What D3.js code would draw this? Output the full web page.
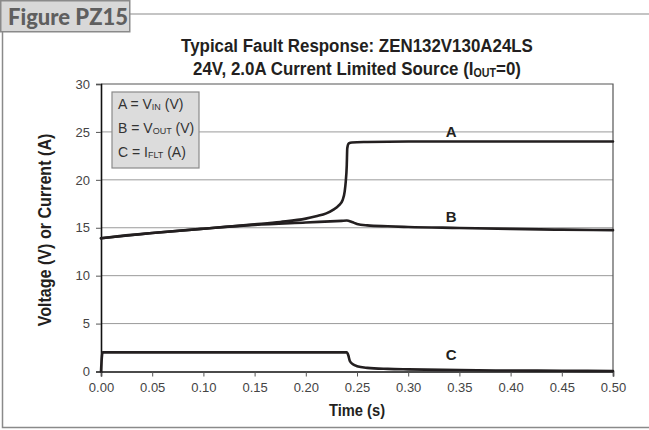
<!DOCTYPE html>
<html><head><meta charset="utf-8">
<script src="https://cdn.jsdelivr.net/npm/d3@7"></script>
<style>
html,body{margin:0;padding:0;background:#fff;}
svg{display:block;}
</style></head>
<body>
<script>
// ---- data ----
const titleLine1 = "Typical Fault Response: ZEN132V130A24LS";
const xTicks = [0, 0.05, 0.10, 0.15, 0.20, 0.25, 0.30, 0.35, 0.40, 0.45, 0.50];
const yTicks = [0, 5, 10, 15, 20, 25, 30];
// Curve A: V_IN (V)
const timeA = [0, 0.02, 0.05, 0.10, 0.15, 0.175, 0.20, 0.21, 0.22, 0.227, 0.232, 0.236, 0.238, 0.239, 0.2400, 0.2405, 0.242, 0.245, 0.26, 0.30, 0.40, 0.50];
const valA  = [13.9, 14.15, 14.45, 14.9, 15.35, 15.6, 15.95, 16.2, 16.5, 16.9, 17.3, 17.9, 18.8, 19.8, 21.5, 23.3, 23.8, 23.9, 23.95, 24.0, 24.0, 24.0];
// Curve B: V_OUT (V)
const timeB = [0, 0.05, 0.10, 0.15, 0.20, 0.235, 0.24, 0.245, 0.25, 0.26, 0.28, 0.30, 0.35, 0.40, 0.45, 0.50];
const valB  = [13.9, 14.45, 14.9, 15.3, 15.55, 15.72, 15.75, 15.6, 15.4, 15.25, 15.15, 15.08, 14.98, 14.88, 14.8, 14.75];
// Curve C: I_FLT (A)
const timeC = [0, 0.0015, 0.10, 0.24, 0.2415, 0.243, 0.246, 0.25, 0.26, 0.28, 0.30, 0.35, 0.40, 0.45, 0.50];
const valC  = [0, 2.0, 2.0, 2.0, 1.7, 1.1, 0.75, 0.55, 0.38, 0.27, 0.22, 0.15, 0.10, 0.08, 0.06];
const curveNames = ["A", "B", "C"];
const curveLabelPos = [[0.342, 24.5], [0.342, 15.6], [0.342, 1.2]];

// ---- layout ----
const W = 649, H = 430;
const svg = d3.select("body").append("svg").attr("width", W).attr("height", H);
const x = d3.scaleLinear().domain([0, 0.5]).range([101, 613]);
const y = d3.scaleLinear().domain([0, 30]).range([371.5, 84]);

// frame
svg.append("line").attr("x1", 130).attr("x2", W).attr("y1", 14).attr("y2", 14).attr("stroke", "#8a8a8a").attr("stroke-width", 1.2);
svg.append("path").attr("d", `M2.5,32 V427.5 H${W}`).attr("fill", "none").attr("stroke", "#8a8a8a").attr("stroke-width", 1.5);
svg.append("rect").attr("x", 0.75).attr("y", 0.75).attr("width", 129).attr("height", 31).attr("fill", "#d8d8d8").attr("stroke", "#8a8a8a").attr("stroke-width", 1.5);
svg.append("text").attr("x", 8).attr("y", 25).attr("font-family", "Lato, 'Open Sans', sans-serif").attr("font-weight", 900).attr("font-size", 22).attr("fill", "#5f5f5f").text("Figure PZ15");

// title (condensed look via horizontal scale)
const tf = "'Liberation Sans', Arial, sans-serif";
const tg = svg.append("g").attr("transform", "translate(357,0) scale(0.89,1)");
tg.append("text").attr("x", 0).attr("y", 52).attr("text-anchor", "middle").attr("font-family", tf).attr("font-weight", "bold").attr("font-size", 19).attr("fill", "#231f20").text(titleLine1);
const t2 = tg.append("text").attr("x", 0).attr("y", 75).attr("text-anchor", "middle").attr("font-family", tf).attr("font-weight", "bold").attr("font-size", 19).attr("fill", "#231f20");
t2.append("tspan").text("24V, 2.0A Current Limited Source (I");
t2.append("tspan").attr("font-size", 12).attr("dy", 2).text("OUT");
t2.append("tspan").attr("dy", -2).text("=0)");

// gridlines
svg.append("g").selectAll("line").data(yTicks.filter(d => d > 0 && d < 30)).join("line")
  .attr("x1", x(0)).attr("x2", x(0.5)).attr("y1", d => y(d)).attr("y2", d => y(d))
  .attr("stroke", "#9a9a9a").attr("stroke-width", 1);
// top and right border
svg.append("path").attr("d", `M${x(0)},${y(30)} H${x(0.5)} V${y(0)}`).attr("fill", "none").attr("stroke", "#555").attr("stroke-width", 1.2);

// axes
const af = "'Liberation Sans', Arial, sans-serif";
const yAxis = svg.append("g").attr("transform", `translate(${x(0)},0)`)
  .call(d3.axisLeft(y).tickValues(yTicks).tickSize(5).tickPadding(6).tickFormat(d3.format("d")));
const xAxis = svg.append("g").attr("transform", `translate(0,${y(0)})`)
  .call(d3.axisBottom(x).tickValues(xTicks).tickSize(5).tickPadding(6).tickFormat(d3.format(".2f")));
[yAxis, xAxis].forEach(g => {
  g.select(".domain").attr("stroke", "#111").attr("stroke-width", 1.6);
  g.selectAll(".tick line").attr("stroke", "#555");
  g.selectAll(".tick text").attr("font-family", af).attr("font-size", 13).attr("fill", "#444");
});

// axis titles
svg.append("text").attr("transform", "translate(357,416) scale(0.92,1)").attr("text-anchor", "middle").attr("font-family", af).attr("font-weight", "bold").attr("font-size", 16).attr("fill", "#231f20").text("Time (s)");
svg.append("text").attr("transform", "translate(51,230) rotate(-90) scale(0.92,1)").attr("text-anchor", "middle").attr("font-family", af).attr("font-weight", "bold").attr("font-size", 17.5).attr("fill", "#231f20").text("Voltage (V) or Current (A)");

// curves
const line = d3.line().x(d => x(d[0])).y(d => y(d[1])).curve(d3.curveMonotoneX);
const series = [d3.zip(timeB, valB), d3.zip(timeA, valA), d3.zip(timeC, valC)];
svg.append("g").selectAll("path").data(series).join("path")
  .attr("d", line).attr("fill", "none").attr("stroke", "#231f20").attr("stroke-width", 2.6)
  .attr("stroke-linejoin", "round").attr("stroke-linecap", "round");

// curve labels
svg.append("g").selectAll("text").data(curveNames).join("text")
  .attr("x", (d, i) => x(curveLabelPos[i][0])).attr("y", (d, i) => y(curveLabelPos[i][1]))
  .attr("text-anchor", "middle").attr("font-family", af).attr("font-weight", "bold").attr("font-size", 15).attr("fill", "#231f20").text(d => d);

// legend
const lg = svg.append("g");
lg.append("rect").attr("x", 112).attr("y", 92).attr("width", 87).attr("height", 76).attr("fill", "#dcdcdc").attr("stroke", "#8a8a8a").attr("stroke-width", 1.2);
const legendRows = [["A = V", "IN", " (V)"], ["B = V", "OUT", " (V)"], ["C = I", "FLT", " (A)"]];
const legendBase = [109, 133, 157];
legendRows.forEach((r, i) => {
  const t = lg.append("text").attr("x", 118).attr("y", legendBase[i]).attr("font-family", af).attr("font-size", 14).attr("fill", "#333");
  t.append("tspan").text(r[0]);
  t.append("tspan").attr("font-size", 9).attr("dy", 1).text(r[1]);
  t.append("tspan").attr("dy", -1).text(r[2]);
});
</script>
</body></html>
